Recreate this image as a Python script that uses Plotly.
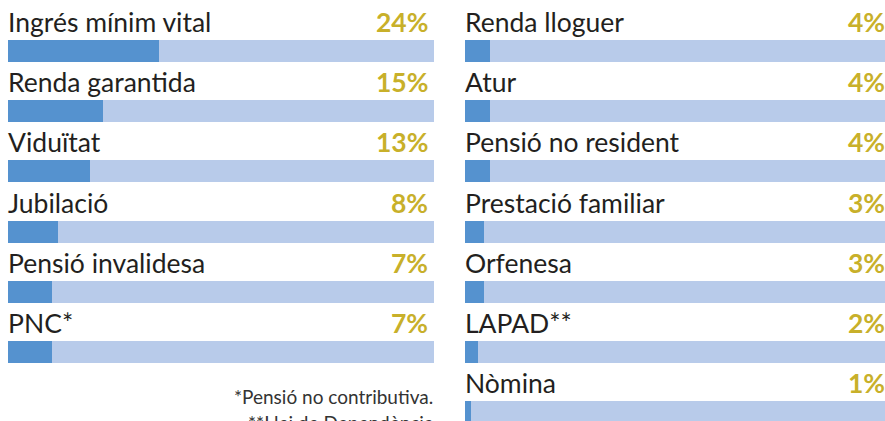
import plotly.graph_objects as go

left_labels = ["Ingrés mínim vital", "Renda garantida", "Viduïtat", "Jubilació",
               "Pensió invalidesa", "PNC*"]
left_values = [24, 15, 13, 8, 7, 7]
right_labels = ["Renda lloguer", "Atur", "Pensió no resident", "Prestació familiar",
                "Orfenesa", "LAPAD**", "Nòmina"]
right_values = [4, 4, 4, 3, 3, 2, 1]
footnotes = ["*Pensió no contributiva.", "**Llei de Dependència"]

W, H = 885, 421
PITCH = 60.2
ROW0 = 51.0
BAR_H = 22.0
FILL = "#5592cf"
TRACK = "#b8cbea"
GOLD = "#c8b02a"
TEXT = "#231f20"
FONT = "Lato"
FS = 26.5

L_MAX = 67.6
R_MAX = 66.3

fig = go.Figure()

def add_panel(labels, values, xa, ya, vmax, pct_shift):
    rows = list(range(len(labels)))
    fig.add_trace(go.Bar(x=[vmax] * len(rows), y=rows, orientation="h",
                         marker=dict(color=TRACK, line=dict(width=0)),
                         width=BAR_H / PITCH, xaxis=xa, yaxis=ya,
                         hoverinfo="skip", showlegend=False))
    fig.add_trace(go.Bar(x=values, y=rows, orientation="h",
                         marker=dict(color=FILL, line=dict(width=0)),
                         width=BAR_H / PITCH, xaxis=xa, yaxis=ya,
                         showlegend=False))
    for r, (lab, v) in enumerate(zip(labels, values)):
        fig.add_annotation(x=0, y=r - 29 / PITCH, xref=xa, yref=ya, text=lab,
                           showarrow=False, xanchor="left", yanchor="middle",
                           xshift=-2, font=dict(family=FONT, size=FS, color=TEXT))
        fig.add_annotation(x=vmax, y=r - 29 / PITCH, xref=xa, yref=ya,
                           text=f"<b>{v}%</b>", showarrow=False,
                           xanchor="right", yanchor="middle", xshift=pct_shift,
                           font=dict(family=FONT, size=FS, color=GOLD))

add_panel(left_labels, left_values, "x", "y", L_MAX, -4)
add_panel(right_labels, right_values, "x2", "y2", R_MAX, 2)

ytop = -ROW0 / PITCH
ybot = (H - ROW0) / PITCH

fig.update_layout(
    width=W, height=H,
    margin=dict(l=0, r=0, t=0, b=0),
    paper_bgcolor="white", plot_bgcolor="white",
    barmode="overlay", bargap=0,
    xaxis=dict(domain=[8 / W, 434 / W], range=[0, L_MAX], visible=False, fixedrange=True),
    xaxis2=dict(domain=[465 / W, 885 / W], range=[0, R_MAX], visible=False, fixedrange=True),
    yaxis=dict(domain=[0, 1], range=[ybot, ytop], visible=False, anchor="x", fixedrange=True),
    yaxis2=dict(domain=[0, 1], range=[ybot, ytop], visible=False, anchor="x2", fixedrange=True),
)

for i, t in enumerate(footnotes):
    fig.add_annotation(x=435 / W, y=1 - (396 + 26 * i) / H, xref="paper", yref="paper",
                       text=t, showarrow=False, xanchor="right", yanchor="middle",
                       font=dict(family=FONT, size=19, color="#333333"))

fig.write_html("out.html", config={"displayModeBar": False},
               post_script="document.body.style.margin='0';document.body.style.overflow='hidden';")
